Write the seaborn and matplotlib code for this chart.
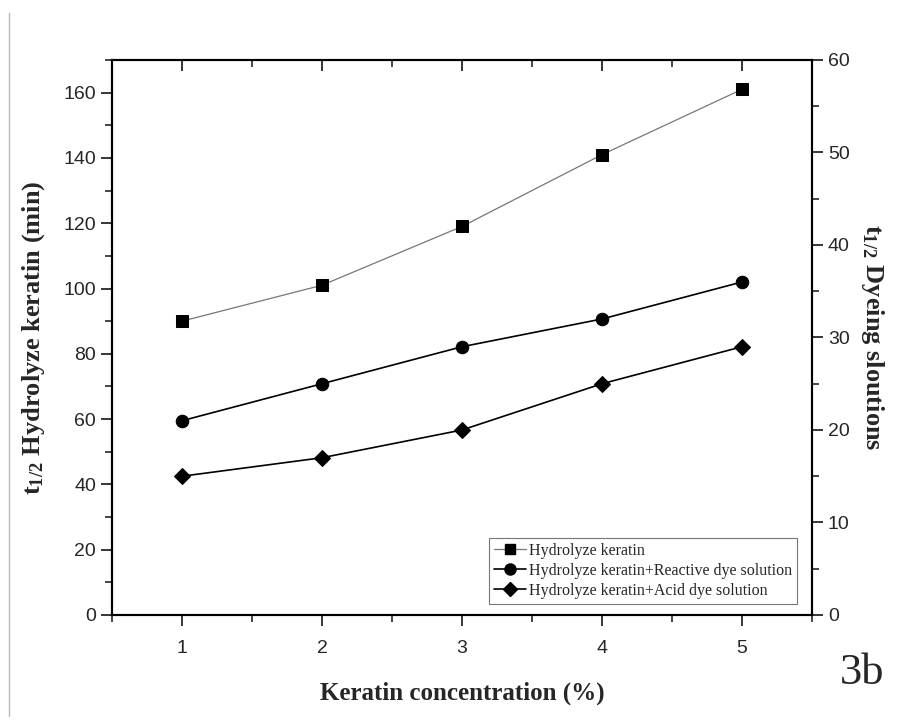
import matplotlib
matplotlib.use('Agg')
import matplotlib.pyplot as plt
import seaborn as sns
import pandas as pd
from matplotlib.ticker import MultipleLocator
from matplotlib.lines import Line2D

# data
concentration = [1, 2, 3, 4, 5]
hydrolyze = [90, 101, 119, 141, 161]        # left axis (min)
reactive_dye = [21, 25, 29, 32, 36]         # right axis
acid_dye = [15, 17, 20, 25, 29]             # right axis

labels = ['Hydrolyze keratin',
          'Hydrolyze keratin+Reactive dye solution',
          'Hydrolyze keratin+Acid dye solution']

sns.set_style('ticks')
plt.rcParams['font.family'] = ['Liberation Sans', 'DejaVu Sans']
plt.rcParams['mathtext.fontset'] = 'custom'
plt.rcParams['mathtext.rm'] = 'Liberation Serif'
plt.rcParams['mathtext.bf'] = 'Liberation Serif:bold'

df_left = pd.DataFrame({'x': concentration, 'y': hydrolyze})
df_react = pd.DataFrame({'x': concentration, 'y': reactive_dye})
df_acid = pd.DataFrame({'x': concentration, 'y': acid_dye})

fig = plt.figure(figsize=(9, 7.26), dpi=100)
ax = fig.add_axes([0.1244, 0.1529, 0.7778, 0.7645])
ax2 = ax.twinx()

sns.lineplot(data=df_left, x='x', y='y', ax=ax, color='#777777', linewidth=0.9,
             marker='s', markersize=8, markerfacecolor='black',
             markeredgecolor='black')
sns.lineplot(data=df_react, x='x', y='y', ax=ax2, color='black', linewidth=1.2,
             marker='o', markersize=9, markerfacecolor='black',
             markeredgecolor='black')
sns.lineplot(data=df_acid, x='x', y='y', ax=ax2, color='black', linewidth=1.2,
             marker='D', markersize=8, markerfacecolor='black',
             markeredgecolor='black')

ax.set_xlim(0.5, 5.5)
ax.set_ylim(0, 170)
ax2.set_ylim(0, 60)

ax.xaxis.set_major_locator(MultipleLocator(1))
ax.xaxis.set_minor_locator(MultipleLocator(0.5))
ax.yaxis.set_major_locator(MultipleLocator(20))
ax.yaxis.set_minor_locator(MultipleLocator(10))
ax2.yaxis.set_major_locator(MultipleLocator(10))
ax2.yaxis.set_minor_locator(MultipleLocator(5))

for a in (ax, ax2):
    for s in a.spines.values():
        s.set_linewidth(1.5)
        s.set_color('black')
        s.set_visible(True)

ax.tick_params(axis='both', which='major', length=8, width=1.3, labelsize=14,
               direction='out', top=True)
ax.tick_params(axis='both', which='minor', length=5, width=1.2,
               direction='out', top=True)
ax.tick_params(axis='x', which='both', pad=10)
ax2.tick_params(axis='y', which='major', length=8, width=1.3, labelsize=14,
                direction='out')
ax2.tick_params(axis='y', which='minor', length=5, width=1.2, direction='out')
# top ticks point into the plot
for t in ax.xaxis.get_major_ticks() + ax.xaxis.get_minor_ticks():
    t.tick2line.set_marker(3)

ax.set_xlabel('Keratin concentration (%)', fontsize=18, fontweight='bold',
              family='Liberation Serif', labelpad=18)
ax.set_ylabel(r'$\mathbf{t_{1/2}}$ Hydrolyze keratin (min)', fontsize=19,
              fontweight='bold', family='Liberation Serif', labelpad=12)
ax2.set_ylabel(r'$\mathbf{t_{1/2}}$ Dyeing sloutions', fontsize=19,
               fontweight='bold', family='Liberation Serif', rotation=270,
               labelpad=26)

handles = [
    Line2D([], [], color='#777777', linewidth=0.9, marker='s', markersize=7,
           markerfacecolor='black', markeredgecolor='black'),
    Line2D([], [], color='black', linewidth=1.2, marker='o', markersize=8,
           markerfacecolor='black', markeredgecolor='black'),
    Line2D([], [], color='black', linewidth=1.2, marker='D', markersize=7,
           markerfacecolor='black', markeredgecolor='black'),
]
leg = ax2.legend(handles, labels, loc='lower right',
                 bbox_to_anchor=(0.99, 0.006), frameon=True, fancybox=False,
                 edgecolor='#555555', handlelength=2.0, handletextpad=0.2,
                 borderpad=0.3, labelspacing=0.25,
                 prop={'family': 'Liberation Serif', 'size': 11.5})
leg.get_frame().set_linewidth(0.8)

fig.text(0.958, 0.073, '3b', fontsize=32, ha='center', va='center',
         family='Liberation Serif')
fig.add_artist(Line2D([0.010, 0.010], [0.014, 0.982], color='#bbbbbb',
                      linewidth=1, transform=fig.transFigure))

fig.savefig('out.png', dpi=100, facecolor='white')
